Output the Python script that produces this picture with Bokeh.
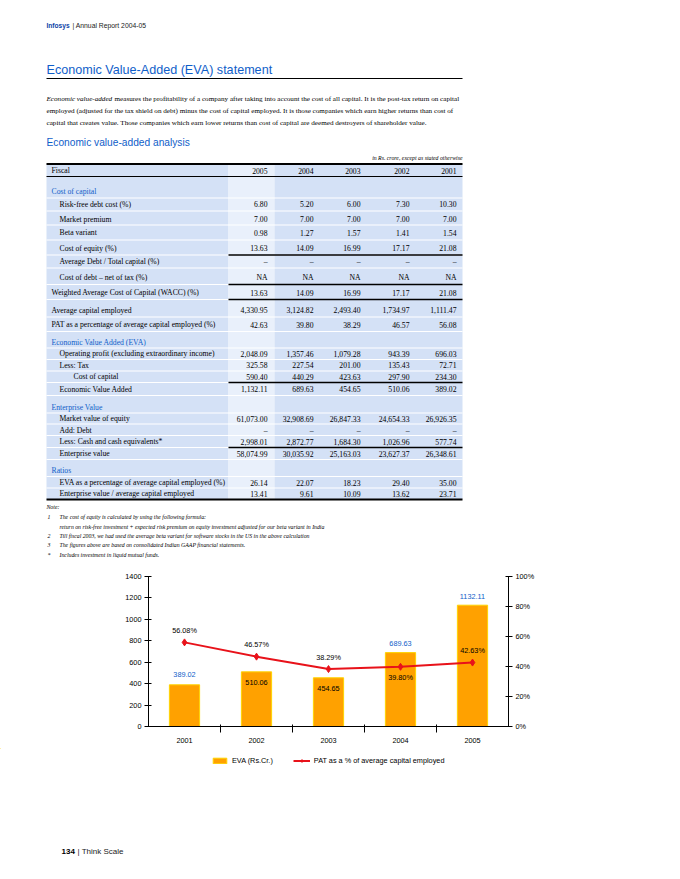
from bokeh.plotting import figure
from bokeh.models import (Range1d, LinearAxis, FixedTicker, PrintfTickFormatter,
                          Legend, LegendItem)
from bokeh.layouts import column
from bokeh.embed import file_html
from bokeh.resources import INLINE
from bokeh.core.properties import value

# ---------------- data ----------------
fiscal_years = ["2005", "2004", "2003", "2002", "2001"]
risk_free = ["6.80", "5.20", "6.00", "7.30", "10.30"]
market_premium = ["7.00", "7.00", "7.00", "7.00", "7.00"]
beta_variant = ["0.98", "1.27", "1.57", "1.41", "1.54"]
cost_of_equity = ["13.63", "14.09", "16.99", "17.17", "21.08"]
avg_debt_ratio = ["–", "–", "–", "–", "–"]
cost_of_debt = ["NA", "NA", "NA", "NA", "NA"]
wacc = ["13.63", "14.09", "16.99", "17.17", "21.08"]
avg_capital = ["4,330.95", "3,124.82", "2,493.40", "1,734.97", "1,111.47"]
pat_pct_row = ["42.63", "39.80", "38.29", "46.57", "56.08"]
operating_profit = ["2,048.09", "1,357.46", "1,079.28", "943.39", "696.03"]
less_tax = ["325.58", "227.54", "201.00", "135.43", "72.71"]
capital_cost = ["590.40", "440.29", "423.63", "297.90", "234.30"]
eva_row = ["1,132.11", "689.63", "454.65", "510.06", "389.02"]
market_value = ["61,073.00", "32,908.69", "26,847.33", "24,654.33", "26,926.35"]
add_debt = ["–", "–", "–", "–", "–"]
less_cash = ["2,998.01", "2,872.77", "1,684.30", "1,026.96", "577.74"]
enterprise_value = ["58,074.99", "30,035.92", "25,163.03", "23,627.37", "26,348.61"]
eva_pct_row = ["26.14", "22.07", "18.23", "29.40", "35.00"]
ev_ratio = ["13.41", "9.61", "10.09", "13.62", "23.71"]

chart_years = ["2001", "2002", "2003", "2004", "2005"]
eva_values = [389.02, 510.06, 454.65, 689.63, 1132.11]
pat_percent = [56.08, 46.57, 38.29, 39.80, 42.63]
eva_ticks = [0, 200, 400, 600, 800, 1000, 1200, 1400]
pct_ticks = [0, 20, 40, 60, 80, 100]

table_rows = [
    ("Fiscal", "hdr", fiscal_years),
    ("Cost of capital", "sec", None),
    ("Risk-free debt cost (%)", 2, risk_free),
    ("Market premium", 2, market_premium),
    ("Beta variant", 2, beta_variant),
    ("Cost of equity (%)", 2, cost_of_equity),
    ("Average Debt / Total capital (%)", 2, avg_debt_ratio),
    ("Cost of debt – net of tax (%)", 2, cost_of_debt),
    ("Weighted Average Cost of Capital (WACC) (%)", 1, wacc),
    ("Average capital employed", 1, avg_capital),
    ("PAT as a percentage of average capital employed (%)", 1, pat_pct_row),
    ("Economic Value Added (EVA)", "sec", None),
    ("Operating profit (excluding extraordinary income)", 2, operating_profit),
    ("Less: Tax", 2, less_tax),
    ("Cost of capital", 3, capital_cost),
    ("Economic Value Added", 2, eva_row),
    ("Enterprise Value", "sec", None),
    ("Market value of equity", 2, market_value),
    ("Add: Debt", 2, add_debt),
    ("Less: Cash and cash equivalents*", 2, less_cash),
    ("Enterprise value", 2, enterprise_value),
    ("Ratios", "sec", None),
    ("EVA as a percentage of average capital employed (%)", 2, eva_pct_row),
    ("Enterprise value / average capital employed", 2, ev_ratio),
]

# ---------------- layout constants ----------------
row_y = [170, 191, 203.5, 218.5, 232, 247.5, 261, 277, 292, 309.5, 324, 341.5, 353, 364.5,
         376, 388.5, 406.5, 418, 429.5, 441, 453, 470, 482, 493]
label_x = {"hdr": 51, "sec": 51, 1: 51, 2: 59, 3: 73}
col_right = [267, 313, 360, 409, 456]
BLUE = "#0f5ec9"
SERIF = "Liberation Serif"
SANS = "Liberation Sans"
BAND = "#d4e1f6"
BAND_LIGHT = "#e9f0fb"
PAGE_W = 680
RED = "#E8121A"
ORANGE = "#FFA100"
ORANGE_EDGE = "#FFD400"


def no_align(f):
    try:
        f.frame_align = False
    except Exception:
        pass
    return f


def page_fig(y0, y1):
    f = figure(width=PAGE_W, height=y1 - y0, x_range=Range1d(0, PAGE_W), y_range=Range1d(y1, y0),
               x_axis_type=None, y_axis_type=None, output_backend="svg",
               toolbar_location=None, min_border=0, outline_line_color=None)
    return no_align(f)


def txt(f, x, y, s, size, font=SERIF, color="black", align="left", style="normal"):
    f.text(x=[x], y=[y], text=[s], text_font=value(font), text_font_size=size,
           text_color=color, text_align=align, text_baseline="middle",
           text_font_style=style)


# ---------------- top page part ----------------
top = page_fig(0, 566)

txt(top, 46, 25, "Infosys", "6.6px", SANS, "#0b3fa6", style="bold")
txt(top, 72, 25, "| Annual Report 2004-05", "6.8px", SANS, "#222222")

txt(top, 46, 69, "Economic Value-Added (EVA) statement", "12.6px", SANS, BLUE)
top.segment(x0=[46], x1=[462], y0=[78], y1=[78], line_color="black", line_width=1.2)

PARA = "7.15px"
txt(top, 46, 98.5, "Economic value-added", PARA, SERIF, style="italic")
txt(top, 114, 98.5, "measures the profitability of a company after taking into account the cost of all capital. It is the post-tax return on capital", PARA)
txt(top, 46, 110.5, "employed (adjusted for the tax shield on debt) minus the cost of capital employed. It is those companies which earn higher returns than cost of", PARA)
txt(top, 46, 122.5, "capital that creates value. Those companies which earn lower returns than cost of capital are deemed destroyers of shareholder value.", PARA)

txt(top, 46, 142, "Economic value-added analysis", "10.2px", SANS, BLUE)
txt(top, 462, 157, "in Rs. crore, except as stated otherwise", "5.8px", SERIF, style="italic", align="right")

# table backgrounds
top.quad(left=[46, 228, 274], right=[228, 274, 462], top=[164, 164, 164],
         bottom=[499, 499, 499], fill_color=[BAND, BAND_LIGHT, BAND], line_color=None)
white_gaps = [197.5, 210.5, 224.5, 239.5, 254.5, 267.5, 284, 299, 316.5, 331, 347.5, 359,
              370.5, 382, 395, 412.5, 423.5, 435, 447, 459, 476, 487.5]
top.segment(x0=[46] * len(white_gaps), x1=[462] * len(white_gaps), y0=white_gaps, y1=white_gaps,
            line_color="white", line_width=1.2)
black_partial = [254.5, 284, 299, 382, 447]
top.segment(x0=[228] * len(black_partial), x1=[462] * len(black_partial),
            y0=black_partial, y1=black_partial, line_color="black", line_width=1.3)
top.segment(x0=[46, 46, 46], x1=[462, 462, 462], y0=[163.5, 176, 499], y1=[163.5, 176, 499],
            line_color="black", line_width=[2, 1, 2])

TFS = "7.7px"
for (label, level, vals), y in zip(table_rows, row_y):
    color = BLUE if level == "sec" else "black"
    txt(top, label_x[level], y, label, TFS, SERIF, color)
    if vals is not None:
        for v, xr in zip(vals, col_right):
            txt(top, xr, y, v, TFS, SERIF, align="right")

notes = [
    ("", "Note:", 506),
    ("1", "The cost of equity is calculated by using the following formula:", 516),
    ("", "return on risk-free investment + expected risk premium on equity investment adjusted for our beta variant in India", 526),
    ("2", "Till fiscal 2003, we had used the average beta variant for software stocks in the US in the above calculation", 535),
    ("3", "The figures above are based on consolidated Indian GAAP financial statements.", 544.5),
    ("*", "Includes investment in liquid mutual funds.", 554),
]
for num, s, y in notes:
    if s == "Note:":
        txt(top, 46, y, s, "5.8px", SERIF, style="italic")
    else:
        txt(top, 47, y, num, "5.8px", SERIF, style="italic")
        txt(top, 59, y, s, "5.8px", SERIF, style="italic")

# ---------------- chart ----------------
xs = [i + 1 for i in range(len(chart_years))]
ch = figure(width=PAGE_W, height=182, x_range=Range1d(0.5, len(xs) + 0.5), y_range=Range1d(0, 1400),
            output_backend="svg", toolbar_location=None,
            min_border_left=148, min_border_right=172, min_border_top=10, min_border_bottom=22,
            outline_line_color=None)
no_align(ch)
ch.extra_y_ranges = {"pct": Range1d(0, 100)}
ch.grid.visible = False

ch.xaxis.ticker = FixedTicker(ticks=xs, minor_ticks=[x + 0.5 for x in xs[:-1]])
ch.xaxis.major_label_overrides = {x: y for x, y in zip(xs, chart_years)}
ch.xaxis.major_tick_line_color = None
ch.xaxis.major_tick_out = 0
ch.xaxis.major_tick_in = 0
ch.xaxis.minor_tick_line_color = "black"
ch.xaxis.minor_tick_out = 6
ch.xaxis.minor_tick_in = 2
ch.xaxis.major_label_standoff = 5

ch.yaxis.ticker = FixedTicker(ticks=eva_ticks)
ra = LinearAxis(y_range_name="pct", ticker=FixedTicker(ticks=pct_ticks),
                formatter=PrintfTickFormatter(format="%d%%"))
ch.add_layout(ra, "right")

for ax in ch.axis:
    ax.axis_line_color = "black"
    ax.axis_line_width = 1
    ax.major_label_text_font = SANS
    ax.major_label_text_font_size = "7.3px"
    ax.major_label_text_color = "black"
for ax in [ch.yaxis[0], ra]:
    ax.major_tick_in = 3
    ax.major_tick_out = 4
    ax.minor_tick_line_color = None
    ax.major_label_standoff = 3

bars = ch.vbar(x=xs, top=eva_values, width=0.42, fill_color=ORANGE,
               line_color=ORANGE_EDGE, line_width=1)
pline = ch.line(x=xs, y=pat_percent, y_range_name="pct", line_color=RED, line_width=2)
pmark = ch.scatter(x=xs, y=pat_percent, y_range_name="pct", marker="diamond", size=7,
                   fill_color=RED, line_color=RED)

bar_label_dy = [-10, 10.5, 10.5, -9, -9]
bar_label_col = [BLUE, "black", "black", BLUE, BLUE]
ch.text(x=xs, y=eva_values, text=[f"{v:.2f}" for v in eva_values], y_offset=bar_label_dy,
        text_color=bar_label_col, text_align="center", text_baseline="middle",
        text_font=value(SANS), text_font_size="7.3px")
pct_label_dy = [-12, -12, -11.5, 11, -12]
ch.text(x=xs, y=pat_percent, y_range_name="pct", text=[f"{v:.2f}%" for v in pat_percent],
        y_offset=pct_label_dy, text_color="black", text_align="center", text_baseline="middle",
        text_font=value(SANS), text_font_size="7.3px")

# ---------------- legend + footer ----------------
bot = page_fig(748, 879)
# legend sample renderers: same series, mirrored to negative x so that they fall
# outside this strip's visible range; only their styling shows up (in the legend)
off_x = [-x for x in xs]
lg_bar = bot.vbar(x=off_x[:1], top=eva_values[:1], width=1, fill_color=ORANGE,
                  line_color=ORANGE_EDGE, line_width=1)
lg_line = bot.line(x=off_x, y=pat_percent, line_color=RED, line_width=2)
lg_mark = bot.scatter(x=off_x, y=pat_percent, marker="diamond", size=6, fill_color=RED, line_color=RED)
legend = Legend(items=[LegendItem(label="EVA (Rs.Cr.)", renderers=[lg_bar]),
                       LegendItem(label="PAT as a % of average capital employed",
                                  renderers=[lg_line, lg_mark])],
                location=(211, 114.5), orientation="horizontal", glyph_width=17, glyph_height=7,
                label_height=8, label_text_font=SANS, label_text_font_size="7.3px",
                label_text_color="black", label_standoff=4, spacing=20, padding=0, margin=0,
                border_line_color=None, background_fill_alpha=0)
bot.add_layout(legend)

txt(bot, 61, 851, "134", "8px", SANS, "black", style="bold")
txt(bot, 77, 851, "| Think Scale", "8px", SANS, "#222222")

page = column(top, ch, bot, spacing=0)
open("out.html", "w").write(file_html(page, INLINE))
